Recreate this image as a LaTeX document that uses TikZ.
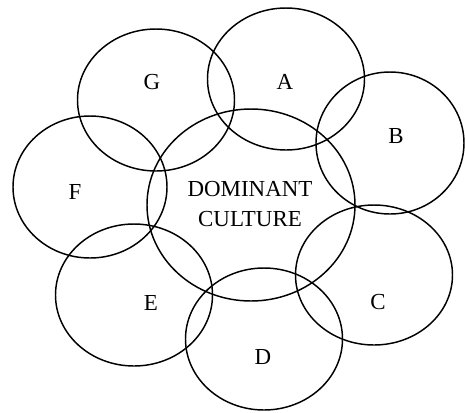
\documentclass[tikz,border=0pt]{standalone}
\usepackage{fontspec}
\setmainfont{Liberation Serif}
\usetikzlibrary{shapes.geometric}
\begin{document}
\begin{tikzpicture}[x=0.75pt,y=-0.75pt,
  ring/.style={draw, ellipse, line width=1.1pt, inner sep=0pt, minimum width=117.75pt, minimum height=106.5pt},
  lbl/.style={font=\fontsize{17.2}{22}\selectfont, inner sep=0pt, align=center}]
\useasboundingbox (0,0) rectangle (465,412);
\node[ring] (G) at (156,100) {};
\node[ring] (A) at (286,79) {};
\node[ring, minimum width=111pt] (B) at (390,143) {};
\node[ring, minimum width=115.5pt] (F) at (90,187) {};
\node[ring] (E) at (134,295) {};
\node[ring] (D) at (264,339) {};
\node[ring, minimum height=105pt] (C) at (374,275) {};
\node[ring, minimum width=156pt, minimum height=144pt] (M) at (251,205) {};
\node[lbl] (tG) at (152,82) {G};
\node[lbl] (tA) at (285,82) {A};
\node[lbl] (tB) at (396,136) {B};
\node[lbl] (tF) at (75,192) {F};
\node[lbl] (tE) at (151,303) {E};
\node[lbl] (tD) at (263,357) {D};
\node[lbl] (tC) at (378,302) {C};
\node[lbl] (tM) at (250,204) {DOMINANT\\CULTURE};
\end{tikzpicture}
\end{document}
